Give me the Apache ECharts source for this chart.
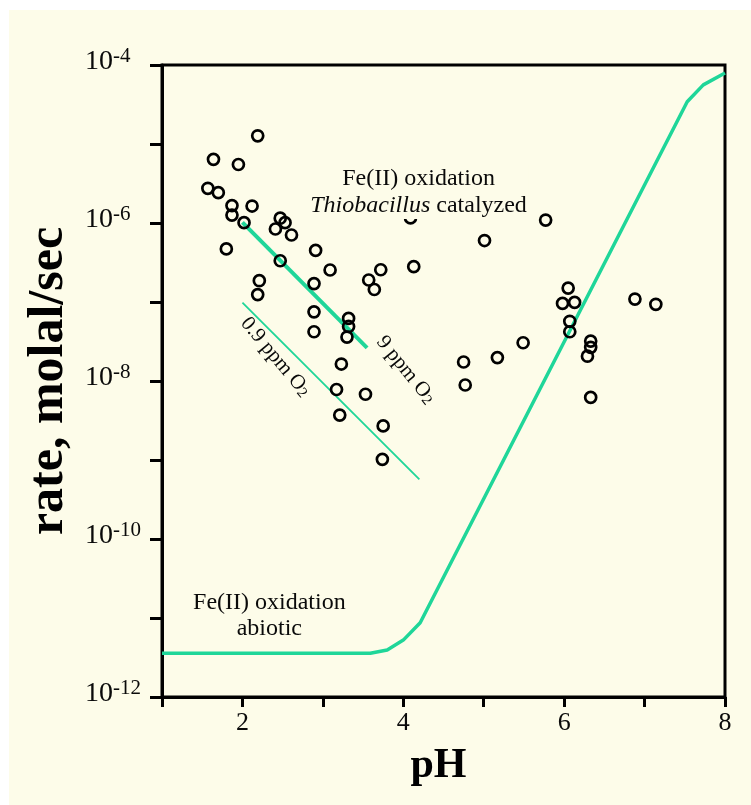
<!DOCTYPE html>
<html><head><meta charset="utf-8">
<script src="https://cdn.jsdelivr.net/npm/echarts@6/dist/echarts.min.js"></script>
<style>
html,body{margin:0;padding:0;background:#fff;width:751px;height:805px;overflow:hidden}
#chart{position:absolute;left:9px;top:10px;width:742px;height:795px}
</style></head><body>
<div id="chart"></div>
<script>
// Observed Fe(II) oxidation rates (Thiobacillus catalyzed)
const obsPH = [2.19, 1.64, 1.95, 1.57, 1.70, 1.87, 2.12, 1.87, 2.02, 2.47, 2.53, 2.41, 2.61, 1.80, 2.91, 2.47, 3.09, 2.21, 2.19, 2.89,
  2.89, 2.89, 3.32, 3.32, 3.30, 3.57, 3.64, 3.72, 3.23, 3.17, 3.53, 3.21, 3.75, 3.74, 4.09, 4.13, 5.01, 5.77, 4.75, 4.77,
  5.17, 5.49, 6.05, 5.98, 6.13, 6.07, 6.07, 6.33, 6.33, 6.29, 6.33, 6.88, 7.14];
const obsRate = [1.27e-5, 6.4e-6, 5.5e-6, 2.75e-6, 2.42e-6, 1.66e-6, 1.64e-6, 1.26e-6, 1.01e-6, 1.15e-6, 1.01e-6, 8.4e-7, 7.05e-7, 4.7e-7, 4.5e-7, 3.33e-7, 2.54e-7, 1.86e-7, 1.24e-7, 1.71e-7,
  7.5e-8, 4.2e-8, 6.2e-8, 4.9e-8, 3.6e-8, 1.9e-7, 1.44e-7, 2.56e-7, 1.64e-8, 7.8e-9, 6.8e-9, 3.7e-9, 2.7e-9, 1.02e-9, 1.16e-6, 2.8e-7, 6.0e-7, 1.09e-6, 1.74e-8, 8.9e-9,
  1.98e-8, 3.05e-8, 1.5e-7, 9.6e-8, 9.9e-8, 5.7e-8, 4.2e-8, 3.2e-8, 2.67e-8, 2.06e-8, 6.2e-9, 1.09e-7, 9.35e-8];
// Abiotic oxidation curve
const abioticPH = [1.0, 3.59, 3.80, 4.00, 4.21, 7.53, 7.73, 8.0];
const abioticRate = [3.57e-12, 3.57e-12, 3.94e-12, 5.25e-12, 8.71e-12, 3.43e-5, 5.6e-5, 7.9e-5];
// 9 ppm O2 trend
const o2HighPH = [2.0, 3.55];
const o2HighRate = [1.02e-6, 2.63e-8];
// 0.9 ppm O2 trend
const o2LowPH = [2.0, 4.2];
const o2LowRate = [9.8e-8, 5.7e-10];
// axes
const xMin = 1, xMax = 8;
const xLabelled = [2, 4, 6, 8];
const yMin = 1e-12, yMax = 1e-4;
const yLabelledExp = [-4, -6, -8, -10, -12];
// annotation anchors [pH, rate]
const noteCatalyzed = [4.19, 2.47e-6];
const noteAbiotic = [2.335, 1.06e-11];
const noteHigh = [4.03, 1.38e-8];
const noteLow = [2.41, 2.01e-8];

const SERIF = "'Liberation Serif','Times New Roman',serif";
const GREEN = '#1fd699';
const BG = '#fdfce9';
const TXT = '#0a0a0a';
const zip = (a, b) => a.map((v, i) => [v, b[i]]);

const chart = echarts.init(document.getElementById('chart'), null, {renderer: 'canvas'});
function noteSeries(pt, label, z) {
  return {type: 'scatter', data: [pt], symbol: 'circle', symbolSize: 1, silent: true, z: z || 5,
    itemStyle: {color: 'rgba(0,0,0,0)', opacity: 1},
    label: Object.assign({show: true, position: 'inside', fontFamily: SERIF, color: TXT, textBorderWidth: 0, opacity: 1}, label)};
}
const subRich = {
  m: {fontFamily: SERIF, fontSize: 21, lineHeight: 21, verticalAlign: 'top', color: TXT},
  u: {fontFamily: SERIF, fontSize: 15, lineHeight: 15, padding: [12, 0, 0, 0], verticalAlign: 'bottom', color: TXT}
};
const option = {
  animation: false,
  backgroundColor: BG,
  grid: {left: 153, right: 26, top: 55, bottom: 108, show: true, borderColor: '#000', borderWidth: 3, backgroundColor: 'transparent'},
  xAxis: {
    type: 'value', min: xMin, max: xMax, interval: 1,
    name: 'pH', nameLocation: 'middle', nameGap: 48,
    nameTextStyle: {fontFamily: SERIF, fontWeight: 'bold', fontSize: 42, color: '#000', padding: [0, 10, 0, 0]},
    axisLine: {show: true, lineStyle: {color: '#000', width: 3}},
    axisTick: {show: true, inside: false, length: 10, lineStyle: {color: '#000', width: 3}},
    splitLine: {show: false},
    axisLabel: {margin: 13, fontFamily: SERIF, fontSize: 26, color: TXT,
      formatter: v => xLabelled.indexOf(Math.round(v)) >= 0 ? String(Math.round(v)) : ''}
  },
  yAxis: {
    type: 'log', logBase: 10, min: yMin, max: yMax, interval: 1, splitNumber: 8,
    name: 'rate, molal/sec', nameLocation: 'middle', nameGap: 87, nameRotate: 90,
    nameTextStyle: {fontFamily: SERIF, fontWeight: 'bold', fontSize: 50, color: '#000'},
    axisLine: {show: true, lineStyle: {color: '#000', width: 3}},
    axisTick: {show: true, inside: false, length: 12, lineStyle: {color: '#000', width: 3}},
    splitLine: {show: false},
    axisLabel: {margin: 77, align: 'left', fontFamily: SERIF, color: TXT, padding: [0, 0, 8, 0],
      formatter: v => {
        const e = Math.round(Math.log10(v));
        return yLabelledExp.indexOf(e) >= 0 ? '{b|10}{s|' + e + '}' : '';
      },
      rich: {
        b: {fontFamily: SERIF, fontSize: 28, lineHeight: 30, verticalAlign: 'bottom', color: TXT},
        s: {fontFamily: SERIF, fontSize: 21, lineHeight: 21, verticalAlign: 'top', color: TXT}
      }
    }
  },
  series: [
    {type: 'line', data: zip(abioticPH, abioticRate), symbol: 'none', z: 2,
      lineStyle: {color: GREEN, width: 3.5}},
    {type: 'line', data: zip(o2HighPH, o2HighRate), symbol: 'none', z: 2,
      lineStyle: {color: GREEN, width: 4}},
    {type: 'line', data: zip(o2LowPH, o2LowRate), symbol: 'none', z: 2,
      lineStyle: {color: GREEN, width: 1.8}},
    {type: 'scatter', data: zip(obsPH, obsRate), symbol: 'circle', symbolSize: 11, z: 3,
      itemStyle: {color: 'rgba(0,0,0,0)', borderColor: '#000', borderWidth: 2.7, opacity: 1}},
    noteSeries(noteCatalyzed, {
      formatter: 'Fe(II) oxidation\n{i|Thiobacillus} catalyzed', fontSize: 24, lineHeight: 27,
      backgroundColor: BG, padding: [0, 2, 0, 2],
      rich: {i: {fontStyle: 'italic', fontFamily: SERIF, fontSize: 24, lineHeight: 27, color: TXT}}
    }, 6),
    noteSeries(noteAbiotic, {formatter: 'Fe(II) oxidation\nabiotic', fontSize: 24, lineHeight: 26}),
    noteSeries(noteHigh, {formatter: '{m|9 ppm O}{u|2}', rotate: -51, rich: subRich}),
    noteSeries(noteLow, {formatter: '{m|0.9 ppm O}{u|2}', rotate: -50, rich: subRich})
  ]
};
chart.setOption(option);
</script>
</body></html>
